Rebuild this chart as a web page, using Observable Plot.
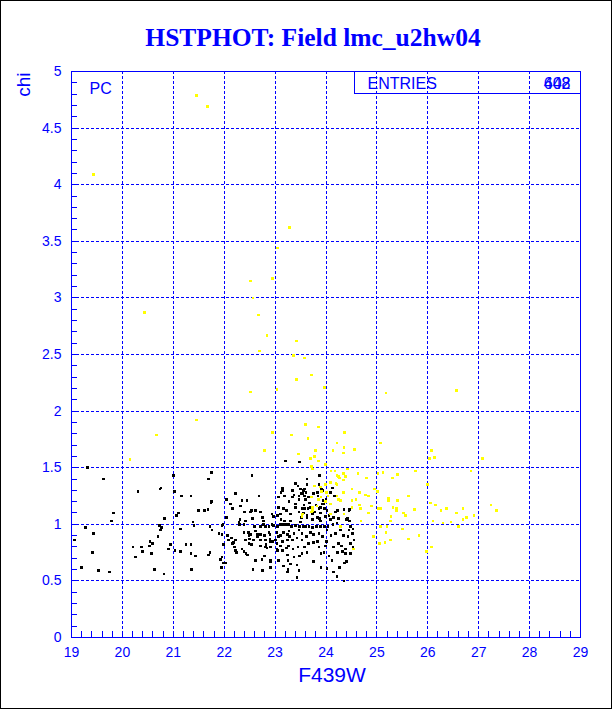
<!DOCTYPE html>
<html>
<head>
<meta charset="utf-8">
<script src="https://cdn.jsdelivr.net/npm/d3@7"></script>
<script src="https://cdn.jsdelivr.net/npm/@observablehq/plot@0.6"></script>
<style>
  html, body { margin: 0; padding: 0; background: #fff; }
  #wrap { position: relative; width: 612px; height: 709px; outline: 1px solid #000; outline-offset: -1px; }
  #wrap svg { display: block; shape-rendering: crispEdges; }
</style>
</head>
<body>
<div id="wrap"></div>
<script>
const title = "HSTPHOT: Field lmc_u2hw04";
const xLabel = "F439W";
const yLabel = "chi";
const optLabel = "PC";
const statName = "ENTRIES";
const statValues = ["608", "442"];
const xTicks = [19, 20, 21, 22, 23, 24, 25, 26, 27, 28, 29];
const yTicks = [0, 0.5, 1, 1.5, 2, 2.5, 3, 3.5, 4, 4.5, 5];
const statBox = [{x1: 24.56, x2: 29, y1: 4.805, y2: 5}];

// black series: [F439W, chi]
const blackPts = [
[19.06,0.86],[19.20,0.62],[19.31,1.50],[19.28,0.97],[19.43,0.92],[19.41,0.75],[19.53,0.59],[19.63,1.40],[19.75,0.58],[19.79,1.03],[19.83,1.10],
[20.21,0.80],[20.26,0.71],[20.31,1.29],[20.38,0.80],[20.40,0.76],[20.53,0.81],[20.54,0.85],[20.59,0.83],[20.57,0.74],[20.63,0.60],[20.70,0.89],[20.74,1.31],[20.75,0.95],[20.77,0.97],[20.73,0.99],[20.76,1.32],[20.83,1.05],[20.82,0.56],[20.91,0.78],[20.95,0.82],[21.00,1.43],[21.02,1.29],[21.03,0.77],[21.06,1.08],[21.10,1.10],[21.14,0.96],[21.14,0.76],[21.16,1.25],[21.25,0.82],[21.35,1.25],[21.35,0.82],[21.35,0.74],[21.44,0.72],[21.41,0.99],[21.39,1.02],[21.36,0.60],[21.49,1.12],[21.61,1.12],[21.68,1.13],[21.69,1.40],[21.75,1.46],[21.74,1.19],[21.72,0.98],[21.76,0.95],[21.90,0.92],[21.96,0.91],[21.69,0.73],[21.72,0.75],[21.96,0.99],[21.99,0.82],[21.93,0.69],[22.03,0.66],[21.95,0.62],[21.96,0.71],[21.75,1.20],
[22.04,1.22],[22.04,1.06],[22.16,1.14],[22.35,1.21],[22.45,1.21],[22.32,1.16],[22.40,1.11],[22.55,1.43],[22.54,1.12],[22.61,1.12],[22.56,1.05],[22.75,1.06],[22.42,1.03],[22.30,1.00],[22.60,0.98],[22.71,0.98],[22.81,0.98],[22.88,0.98],[22.97,0.99],[23.05,0.98],[22.06,0.90],[22.14,0.88],[22.08,0.86],[22.18,0.84],[22.20,0.80],[22.24,0.75],[22.39,0.76],[22.43,0.74],[22.49,0.90],[22.49,0.83],[22.54,0.82],[22.61,0.94],[22.65,0.89],[22.70,0.86],[22.79,0.90],[22.82,0.82],[22.84,0.79],[22.90,0.91],[22.90,0.87],[22.96,0.85],[23.04,0.83],[23.07,0.89],[22.57,0.60],[22.75,0.59],[22.61,0.68],[22.79,0.72],[22.91,0.67],[23.05,0.77],[23.11,0.81],[23.15,1.30],[23.14,1.32],[23.20,1.56],[23.07,1.24],[23.18,1.25],[23.12,1.04],[23.19,1.03],[22.22,1.27],[22.68,1.25],[23.12,1.28],[22.12,1.18],[22.71,1.11],[22.52,1.11],[23.07,1.15],[23.17,1.14],[23.22,1.12],[23.11,1.09],[22.94,1.09],[22.97,1.07],[23.05,1.08],[21.98,1.00],[22.29,1.02],[22.39,1.00],[22.31,1.04],[22.77,1.03],[22.77,1.00],[22.94,1.00],[23.11,1.00],[23.16,1.00],[23.22,1.00],[23.27,1.00],[22.22,0.86],[22.16,0.83],[22.39,0.93],[22.48,0.93],[22.52,0.91],[22.65,0.91],[22.71,0.91],[22.88,0.93],[23.04,0.93],[23.11,0.90],[23.17,0.93],[23.24,0.91],[23.28,0.89],[22.42,0.86],[22.50,0.87],[22.58,0.86],[22.71,0.86],[22.81,0.86],[22.91,0.85],[23.01,0.86],[23.14,0.85],[23.24,0.86],[22.71,0.81],[22.81,0.80],[22.91,0.80],[23.04,0.78],[23.14,0.77],[23.22,0.79],[22.22,0.77],[22.35,0.78],[22.46,0.73],[22.74,0.69],[22.91,0.68],[23.07,0.68],[23.25,0.68],[21.99,0.66],[22.91,0.62],[23.17,0.63],[23.25,0.60],
[23.48,1.55],[23.40,1.36],[23.50,1.31],[23.34,1.24],[23.47,1.25],[23.27,1.20],[23.40,1.18],[23.30,1.09],[23.47,1.11],[23.45,1.34],[23.34,1.30],[23.37,1.26],[23.47,1.22],[23.40,1.15],[23.30,1.03],[23.32,0.98],[23.40,0.99],[23.48,0.98],[23.27,0.94],[23.37,0.92],[23.47,0.95],[23.34,0.86],[23.43,0.88],[23.26,0.81],[23.35,0.78],[23.45,0.80],[23.24,0.73],[23.37,0.71],[23.48,0.72],[23.30,0.65],[23.43,0.64],[23.24,0.58],[23.47,0.59],[23.43,0.53],
[23.63,1.35],[23.87,1.43],[23.52,1.27],[23.58,1.25],[23.60,1.22],[23.56,1.30],[23.90,1.33],[23.94,1.30],[23.84,1.25],[23.83,1.28],[24.13,1.32],[24.17,1.25],[24.09,1.28],[23.94,1.21],[23.92,1.18],[23.89,1.15],[23.65,1.14],[23.72,1.11],[23.77,1.11],[23.53,1.14],[23.56,1.10],[23.52,1.06],[23.97,1.14],[24.02,1.12],[24.23,1.12],[24.35,1.13],[24.46,1.13],[23.63,1.06],[23.73,1.04],[23.87,1.05],[23.89,1.03],[23.99,1.07],[24.09,1.04],[24.15,1.06],[24.40,1.04],[24.46,1.03],[23.50,1.02],[23.55,0.98],[23.60,0.98],[23.67,0.98],[23.73,0.97],[23.81,0.98],[23.89,0.98],[23.97,0.98],[24.04,0.98],[24.14,1.00],[24.22,1.01],[24.28,0.98],[24.48,0.98],[24.45,0.95],[24.53,0.96],[23.53,0.92],[23.62,0.89],[23.70,0.93],[23.76,0.91],[23.86,0.92],[23.93,0.89],[24.02,0.95],[24.10,0.90],[24.19,0.92],[24.28,0.95],[24.34,0.90],[24.43,0.89],[24.52,0.92],[24.55,0.86],[23.53,0.86],[23.58,0.80],[23.66,0.83],[23.76,0.84],[23.83,0.85],[23.86,0.80],[23.99,0.81],[24.01,0.85],[24.15,0.80],[24.25,0.83],[24.30,0.81],[24.38,0.78],[24.48,0.83],[24.53,0.80],[23.53,0.74],[23.63,0.75],[23.75,0.67],[23.90,0.74],[23.96,0.75],[24.06,0.72],[24.12,0.68],[24.23,0.75],[24.32,0.76],[24.38,0.74],[24.48,0.74],[23.90,0.62],[24.02,0.61],[24.15,0.58],[24.22,0.54],[24.27,0.62],[24.36,0.66],[24.40,0.67],[24.35,0.50],[23.63,1.40],[23.58,1.31],[23.54,1.27],[23.68,1.19],[23.58,1.14],[23.61,1.28],[23.66,1.24],[23.76,1.27],[23.91,1.31],[23.86,1.35],[23.57,1.17],[23.70,1.15],[23.80,1.17],[23.86,1.14],[23.96,1.18],[24.00,1.22],[23.63,1.08],[23.73,1.09],[23.83,1.06],[23.89,1.10],[24.06,1.08],[24.19,1.11],[24.25,1.05],[24.42,1.05],[24.45,1.12]
];

// yellow series: [F439W, chi]
const yellowPts = [
[21.46,4.79],[21.67,4.69],[19.43,4.09],[23.28,3.62],[23.05,3.44],[22.52,3.15],[22.95,3.17],[22.57,3.00],[22.67,2.85],[20.43,2.87],[22.84,2.67],[23.42,2.62],[22.69,2.53],[23.36,2.49],[23.58,2.47],[23.71,2.32],[23.42,2.28],[23.97,2.21],[23.04,2.19],[22.52,2.17],[25.18,2.16],[26.56,2.18],
[21.46,1.92],[20.67,1.79],[20.15,1.57],[23.60,1.88],[23.85,1.86],[22.95,1.81],[23.32,1.79],[24.36,1.81],[23.65,1.76],[24.22,1.72],[25.07,1.72],[22.79,1.65],[23.46,1.62],[23.79,1.65],[24.14,1.65],[24.35,1.68],[24.34,1.63],[24.56,1.66],[23.70,1.58],[23.85,1.56],[23.77,1.60],[23.99,1.53],[26.07,1.65],[26.03,1.58],[26.13,1.59],[27.07,1.58],
[23.71,1.51],[23.73,1.49],[24.10,1.47],[24.18,1.47],[24.34,1.45],[24.42,1.49],[24.25,1.42],[24.22,1.43],[24.63,1.45],[25.02,1.45],[25.12,1.46],[25.40,1.44],[25.76,1.47],[26.85,1.47],[24.27,1.41],[24.38,1.42],[24.80,1.41],[25.31,1.41],[24.34,1.39],[23.77,1.34],[23.99,1.35],[24.22,1.35],[24.09,1.37],[24.20,1.36],[23.89,1.33],[24.95,1.31],[25.01,1.29],[25.99,1.35],[25.62,1.25],[23.71,1.24],[23.90,1.24],[24.01,1.28],[24.04,1.25],[24.22,1.25],[24.34,1.28],[24.66,1.28],[24.78,1.26],[24.84,1.25],[24.51,1.31],[23.91,1.29],[23.85,1.22],[24.25,1.22],[24.59,1.22],[24.28,1.21],[24.51,1.21],[25.23,1.23],[25.23,1.21],[25.40,1.21],[26.05,1.19],[26.15,1.17],[24.65,1.17],[24.89,1.16],[24.68,1.14],[25.02,1.14],[25.07,1.14],[25.32,1.15],[25.38,1.14],[25.74,1.13],[26.37,1.14],[26.69,1.14],[27.24,1.17],[27.35,1.12],
[23.73,1.12],[24.09,1.09],[24.35,1.09],[24.84,1.10],[25.38,1.12],[25.52,1.10],[25.28,1.07],[25.56,1.08],[26.10,1.03],[26.26,1.12],[26.56,1.10],[26.76,1.06],[26.69,1.04],[26.91,1.08],[26.30,1.01],[26.46,1.02],[24.69,1.03],[25.27,1.03],[25.07,0.98],[25.20,0.98],[25.50,0.96],[26.60,0.98],[26.07,0.80],[25.18,0.93],[24.93,0.89],[25.62,0.87],[25.83,0.90],[25.05,0.83],[25.16,0.84],[25.27,0.86],[25.97,0.76],[24.53,0.78],[23.74,1.15],[23.82,1.16],[23.54,1.09],[23.71,1.11],[23.53,1.07],[23.99,1.20],[24.09,1.18],[24.51,1.15],[24.66,1.17],[24.28,0.98],[24.55,0.78]
];

const xMinor = d3.range(0, 51).map(i => 19 + i * 0.2);
const yMinor = d3.range(0, 51).map(i => i * 0.1);
const gridXv = xTicks.slice(1, -1);
const gridYv = yTicks.slice(1, -1);

const BLUE = "#0000ff";
const W = 612, H = 709, mT = 71, mL = 71, mR = 32, mB = 72;
const frameW = W - mL - mR, frameH = H - mT - mB;
const sans = "Liberation Sans, Arial, Helvetica, sans-serif";

const chart = Plot.plot({
  width: W, height: H,
  marginTop: mT, marginLeft: mL, marginRight: mR, marginBottom: mB,
  style: {background: "#fff", fontFamily: sans},
  x: {domain: [19, 29]},
  y: {domain: [0, 5]},
  marks: [
    Plot.gridX(gridXv, {stroke: BLUE, strokeOpacity: 1, strokeWidth: 1, strokeDasharray: "3,2"}),
    Plot.gridY(gridYv, {stroke: BLUE, strokeOpacity: 1, strokeWidth: 1, strokeDasharray: "3,2"}),
    Plot.tickX(xMinor, {x: d => d, stroke: BLUE, insetTop: frameH - 6}),
    Plot.tickY(yMinor, {y: d => d, stroke: BLUE, insetRight: frameW - 6}),
    Plot.dot(blackPts, {x: d => d[0], y: d => d[1], symbol: "square", r: 1.45, fill: "#000", stroke: null}),
    Plot.dot(yellowPts, {x: d => d[0], y: d => d[1], symbol: "square", r: 1.45, fill: "#ffff00", stroke: null}),
    Plot.rect(statBox, {x1: "x1", x2: "x2", y1: "y1", y2: "y2", fill: "none", stroke: BLUE, strokeWidth: 1}),
    Plot.frame({stroke: BLUE, strokeWidth: 1}),
    Plot.axisX({ticks: xTicks, tickSize: 0, tickPadding: 10, fontSize: 14, fill: BLUE, label: null, tickFormat: d => String(d)}),
    Plot.axisY({ticks: yTicks, tickSize: 0, tickPadding: 10, fontSize: 14, fill: BLUE, label: null, tickFormat: d => String(+d.toFixed(1))}),
    Plot.text([title], {frameAnchor: "top", dx: -13, dy: -34, lineAnchor: "middle", fontSize: 25.5, fontWeight: "bold", fontFamily: "Liberation Serif, Times New Roman, serif", fill: BLUE}),
    Plot.text([xLabel], {frameAnchor: "bottom", dx: 6, dy: 38, lineAnchor: "middle", fontSize: 21, fill: BLUE}),
    Plot.text([yLabel], {frameAnchor: "top-left", dx: -48, dy: 1, rotate: -90, textAnchor: "end", lineAnchor: "middle", fontSize: 19, fill: BLUE}),
    Plot.text([optLabel], {frameAnchor: "top-left", dx: 18, dy: 17, textAnchor: "start", lineAnchor: "middle", fontSize: 16, fill: BLUE}),
    Plot.text([statName], {frameAnchor: "top-left", dx: 296, dy: 12, textAnchor: "start", lineAnchor: "middle", fontSize: 16, fill: BLUE}),
    Plot.text(statValues, {frameAnchor: "top-right", dx: -10, dy: 12, textAnchor: "end", lineAnchor: "middle", fontSize: 16, fill: BLUE})
  ]
});
document.getElementById("wrap").appendChild(chart);
</script>
</body>
</html>
